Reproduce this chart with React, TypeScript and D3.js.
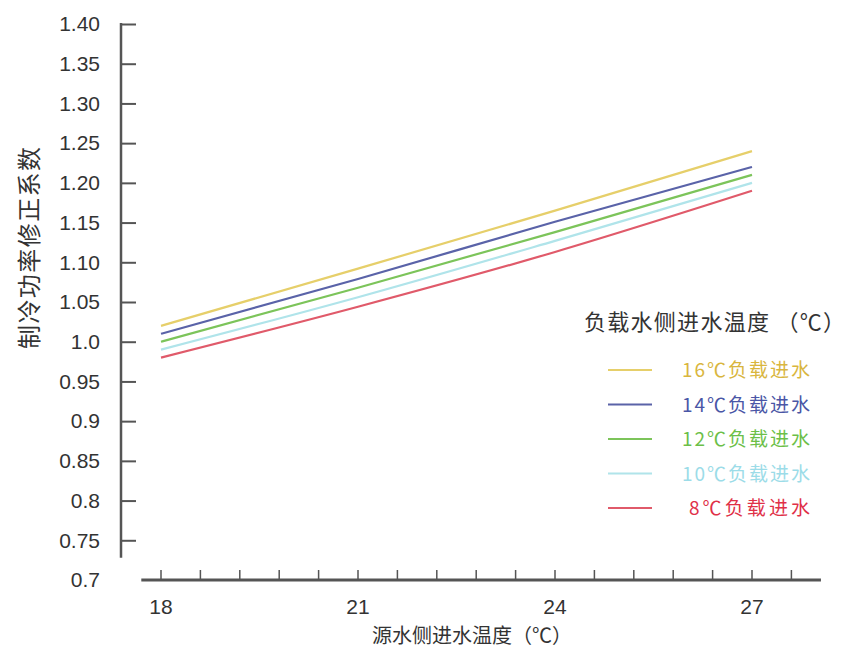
import React, { useRef, useEffect } from "react";
import * as d3 from "d3";

const xValues = [18, 21, 24, 27];
const seriesNames = ["16℃负载进水", "14℃负载进水", "12℃负载进水", "10℃负载进水", "8℃负载进水"];
const load16 = [1.02, 1.092, 1.165, 1.24];
const load14 = [1.01, 1.079, 1.151, 1.22];
const load12 = [1.0, 1.068, 1.138, 1.21];
const load10 = [0.99, 1.056, 1.127, 1.2];
const load8 = [0.98, 1.044, 1.113, 1.19];
const yTickValues = [1.4, 1.35, 1.3, 1.25, 1.2, 1.15, 1.1, 1.05, 1.0, 0.95, 0.9, 0.85, 0.8, 0.75, 0.7];
const yTickLabels = ["1.40", "1.35", "1.30", "1.25", "1.20", "1.15", "1.10", "1.05", "1.0", "0.95", "0.9", "0.85", "0.8", "0.75", "0.7"];
const xTickLabels = [18, 21, 24, 27];
const lineColors = ["#e6cf6a", "#5a63a8", "#7cc45a", "#b0e4ea", "#e05a6a"];
const textColors = ["#d9b63e", "#4a56a6", "#6cbf48", "#9cdce8", "#e03048"];

const App = () => {
  const chartRef = useRef<SVGSVGElement>(null);

  const width = 862,
    height = 656;

  useEffect(() => {
    if (!chartRef.current) return;
    const svg = d3.select(chartRef.current);
    svg.selectAll("*").remove();

    const x = d3.scaleLinear().domain([18, 27]).range([161, 752]);
    const y = d3.scaleLinear().domain([0.7, 1.4]).range([580, 24]);
    const numFont = "'Liberation Sans', Arial, sans-serif";
    const cjkFont = "'Noto Sans CJK SC', sans-serif";

    // y axis: ticks point inwards, no tick at 0.7
    const yAxis = svg
      .append("g")
      .attr("transform", "translate(121,0)")
      .call(
        d3
          .axisLeft(y)
          .tickValues(yTickValues)
          .tickSizeInner(-15)
          .tickSizeOuter(0)
          .tickPadding(21)
          .tickFormat((_, i) => yTickLabels[i])
      );
    yAxis.select(".domain").remove();
    yAxis
      .selectAll("g.tick line")
      .attr("stroke", "#555")
      .attr("stroke-width", 2)
      .attr("opacity", (d: any) => (d === 0.7 ? 0 : 1));
    yAxis
      .selectAll("g.tick text")
      .attr("fill", "#333")
      .style("font-family", numFont)
      .style("font-size", "21px");
    yAxis
      .append("line")
      .attr("y1", y(1.4) - 1)
      .attr("y2", y(0.728))
      .attr("stroke", "#555")
      .attr("stroke-width", 2.5);

    // x axis: minor ticks every 0.6, labels every 3
    const minorTicks = d3.range(0, 17).map((i) => 18 + i * 0.6);
    const xAxis = svg.append("g").attr("transform", "translate(0,580)");
    xAxis
      .append("line")
      .attr("x1", x(17.7))
      .attr("x2", x(28.05))
      .attr("stroke", "#555")
      .attr("stroke-width", 3);
    xAxis
      .selectAll("line.minor")
      .data(minorTicks)
      .join("line")
      .attr("class", "minor")
      .attr("x1", (d) => x(d))
      .attr("x2", (d) => x(d))
      .attr("y1", 0)
      .attr("y2", -10)
      .attr("stroke", "#555")
      .attr("stroke-width", 1.5);
    xAxis
      .selectAll("text")
      .data(xTickLabels)
      .join("text")
      .attr("x", (d) => x(d))
      .attr("y", 34)
      .attr("text-anchor", "middle")
      .attr("fill", "#333")
      .style("font-family", numFont)
      .style("font-size", "21px")
      .text((d) => d);

    // axis titles
    svg
      .append("text")
      .attr("transform", "translate(38,248) rotate(-90)")
      .attr("text-anchor", "middle")
      .attr("fill", "#333")
      .attr("textLength", 202)
      .style("font-family", cjkFont)
      .style("font-size", "24px")
      .text("制冷功率修正系数");
    svg
      .append("text")
      .attr("x", 472)
      .attr("y", 643)
      .attr("text-anchor", "middle")
      .attr("fill", "#333")
      .attr("textLength", 200)
      .style("font-family", cjkFont)
      .style("font-size", "20px")
      .text("源水侧进水温度（℃）");

    // lines
    const series = [load16, load14, load12, load10, load8];
    const line = d3
      .line<number>()
      .x((_, i) => x(xValues[i]))
      .y((d) => y(d))
      .curve(d3.curveMonotoneX);
    svg
      .selectAll("path.series")
      .data(series)
      .join("path")
      .attr("class", "series")
      .attr("d", (d) => line(d))
      .attr("fill", "none")
      .attr("stroke", (_, i) => lineColors[i])
      .attr("stroke-width", 2.2);

    // legend
    svg
      .append("text")
      .attr("x", 584)
      .attr("y", 330)
      .attr("fill", "#333")
      .attr("textLength", 261)
      .style("font-family", cjkFont)
      .style("font-size", "22px")
      .text("负载水侧进水温度 （℃）");
    const legend = svg
      .selectAll("g.legend")
      .data(seriesNames)
      .join("g")
      .attr("class", "legend")
      .attr("transform", (_, i) => `translate(0,${370 + i * 34.5})`);
    legend
      .append("line")
      .attr("x1", 608)
      .attr("x2", 652)
      .attr("stroke", (_, i) => lineColors[i])
      .attr("stroke-width", 2.2);
    legend
      .append("text")
      .attr("x", 810)
      .attr("y", 7)
      .attr("text-anchor", "end")
      .attr("fill", (_, i) => textColors[i])
      .attr("textLength", (d) => (d.length > 6 ? 128 : 121))
      .style("font-family", cjkFont)
      .style("font-size", "19px")
      .text((d) => d);
  }, [chartRef]);

  return (
    <svg
      ref={chartRef}
      width={width}
      height={height}
      style={{ position: "absolute", left: 0, top: 0, background: "#fff" }}
    ></svg>
  );
};

export default App;
